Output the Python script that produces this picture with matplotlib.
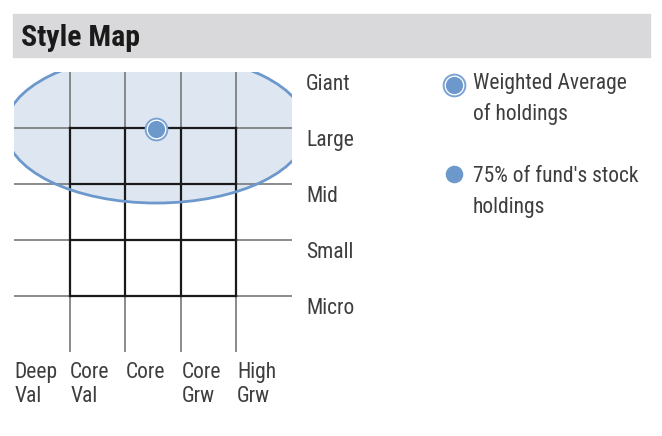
import matplotlib.pyplot as plt
from matplotlib.patches import Ellipse, Rectangle

# Style box categories
size_labels = ['Giant', 'Large', 'Mid', 'Small', 'Micro']
style_labels = ['Deep\nVal', 'Core\nVal', 'Core', 'Core\nGrw', 'High\nGrw']

# Weighted average position (style, size) and 75% ellipse extent
avg_style = 2.56
avg_size = 1.01
ellipse_width = 5.43
ellipse_height = 2.66

legend_labels = ['Weighted Average\nof holdings', "75% of fund's stock\nholdings"]

W, H = 662, 436
fig = plt.figure(figsize=(W / 100, H / 100), dpi=100)
cond = ['Roboto Condensed', 'DejaVu Sans']
fs = 15.5
txt = '#3e3e3e'

# grid axes: x 0..5 -> px 14..292, y 0..5 -> px 72..352
ax = fig.add_axes([14 / W, 1 - 352 / H, 278 / W, 280 / H])
ax.set_xlim(0, 5)
ax.set_ylim(5, 0)
ax.axis('off')

grey = '#808184'
for i in range(1, 5):
    ax.plot([0, 5], [i, i], color=grey, lw=1.3, zorder=2, solid_capstyle='butt')
    ax.plot([i, i], [0, 5], color=grey, lw=1.3, zorder=2, solid_capstyle='butt')
for i in range(1, 5):
    ax.plot([1, 4], [i, i], color='#1a1a1c', lw=1.6, zorder=2.5, solid_capstyle='projecting')
    ax.plot([i, i], [1, 4], color='#1a1a1c', lw=1.6, zorder=2.5, solid_capstyle='projecting')

# 75% ellipse: fill below grid, edge above
ax.add_patch(Ellipse((avg_style, avg_size), ellipse_width, ellipse_height,
                     facecolor='#dee6f1', edgecolor='none', zorder=1))
ax.add_patch(Ellipse((avg_style, avg_size), ellipse_width, ellipse_height,
                     facecolor='none', edgecolor='#6c98cc', lw=2.0, zorder=3))

# weighted average marker
ax.scatter([avg_style], [avg_size], s=245, facecolor='white', edgecolor='#7aa3d3',
           lw=1.4, zorder=4)
ax.scatter([avg_style], [avg_size], s=130, color='#6c98cc', zorder=5)

for i, lab in enumerate(size_labels):
    ax.text(5.25, i + 0.32, lab, family=cond, fontsize=fs, color=txt,
            va='baseline', ha='left', clip_on=False)
for i, lab in enumerate(style_labels):
    for j, line in enumerate(lab.split('\n')):
        ax.text(i + 0.01, 5.46 + j * 0.43, line, family=cond, fontsize=fs, color=txt,
                va='baseline', ha='left', clip_on=False)

# overlay in pixel coordinates for header and legend
lax = fig.add_axes([0, 0, 1, 1], facecolor='none')
lax.set_xlim(0, W)
lax.set_ylim(H, 0)
lax.axis('off')
lax.add_patch(Rectangle((13, 14), 637, 43, color='#d9d9db', zorder=0))
lax.text(21, 46, 'Style Map', family=cond, fontsize=21.5, fontweight='bold',
         color='#1a1a1a', va='baseline', ha='left', zorder=2)

lax.scatter([453.5], [85.5], s=245, facecolor='white', edgecolor='#7aa3d3', lw=1.4)
lax.scatter([453.5], [85.5], s=130, color='#6c98cc')
lax.scatter([454], [174.5], s=135, color='#6c98cc')
for base, lab in zip([89, 182], legend_labels):
    for j, line in enumerate(lab.split('\n')):
        lax.text(473, base + j * 30.5, line, family=cond, fontsize=fs, color=txt,
                 va='baseline', ha='left')

fig.savefig('out.png', dpi=100)
